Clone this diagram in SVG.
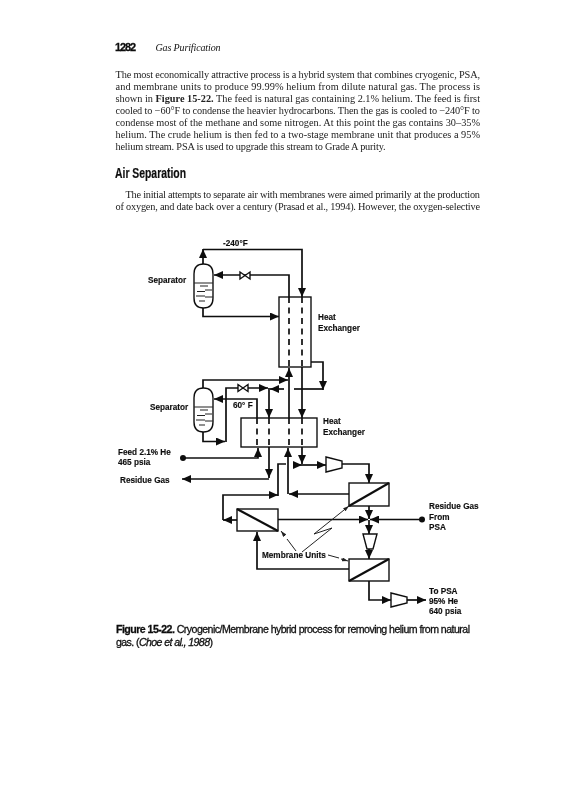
<svg xmlns="http://www.w3.org/2000/svg" width="565" height="800" viewBox="0 0 565 800">
<style>
text{fill:#111}
.b{font-family:"Liberation Serif",serif;font-size:10.3px;fill:#222}
.l{font-family:"Liberation Sans",sans-serif;font-size:8.2px;font-weight:bold;stroke:#111;stroke-width:.15}
.cap{font-family:"Liberation Sans",sans-serif;font-size:10.6px;stroke:#111;stroke-width:.3}
.c{fill:none;stroke:#111;stroke-width:1.7}
.a{marker-end:url(#ah)}
.d{stroke-dasharray:6 4.5}
.t{fill:none;stroke:#222;stroke-width:1}
.n{fill:#fff;stroke:#111;stroke-width:1.4}
.nf{fill:none;stroke:#111;stroke-width:1.4}
.m{stroke:#111;stroke-width:2.2;fill:none}
.s{stroke:#222;stroke-width:1.1;fill:none}
</style>
<defs>
<marker id="ah" markerUnits="userSpaceOnUse" markerWidth="9" markerHeight="8" refX="9" refY="4" orient="auto"><path d="M0 0L9 4L0 8Z" fill="#111"/></marker>
<marker id="th" markerUnits="userSpaceOnUse" markerWidth="6" markerHeight="4" refX="6" refY="2" orient="auto"><path d="M0 0L6 2L0 4Z" fill="#222"/></marker>
<filter id="soft" x="0" y="0" width="1" height="1"><feGaussianBlur stdDeviation="0.35"/></filter>
</defs>
<rect width="565" height="800" fill="#fff"/>
<g filter="url(#soft)">
<g id="page-text">
<text x="115" y="50.5" font-family="Liberation Sans,sans-serif" font-weight="bold" font-size="11" stroke="#111" stroke-width=".3" textLength="21">1282</text>
<text x="155.500" y="50.500" font-family="Liberation Serif,serif" font-style="italic" font-size="10" textLength="65">Gas Purification</text>
<text class="b" x="115.500" y="77.500" textLength="364.500">The most economically attractive process is a hybrid system that combines cryogenic, PSA,</text>
<text class="b" x="115.500" y="89.600" textLength="364.500">and membrane units to produce 99.99% helium from dilute natural gas. The process is</text>
<text class="b" x="115.500" y="101.700" textLength="364.500">shown in <tspan font-weight="bold">Figure 15-22.</tspan> The feed is natural gas containing 2.1% helium. The feed is first</text>
<text class="b" x="115.500" y="113.800" textLength="364.500">cooled to −60°F to condense the heavier hydrocarbons. Then the gas is cooled to −240°F to</text>
<text class="b" x="115.500" y="125.900" textLength="364.500">condense most of the methane and some nitrogen. At this point the gas contains 30–35%</text>
<text class="b" x="115.500" y="138" textLength="364.500">helium. The crude helium is then fed to a two-stage membrane unit that produces a 95%</text>
<text class="b" x="115.500" y="150.100" textLength="270">helium stream. PSA is used to upgrade this stream to Grade A purity.</text>
<text x="115" y="177.500" font-family="Liberation Sans,sans-serif" font-weight="bold" font-size="14.500" stroke="#111" stroke-width=".2" textLength="71" lengthAdjust="spacingAndGlyphs">Air Separation</text>
<text class="b" x="125.500" y="198" textLength="354.500">The initial attempts to separate air with membranes were aimed primarily at the production</text>
<text class="b" x="115.500" y="210.300" textLength="364.500">of oxygen, and date back over a century (Prasad et al., 1994). However, the oxygen-selective</text>
</g>
<g id="connectors">
<path class="c a" d="M203 264V249"/>
<path class="c a" d="M203 249.500H302V297"/>
<path class="c a" d="M289 297V275H214"/>
<path class="c a" d="M203 308V316.500H279"/>
<path class="c d" d="M289 297V367"/>
<path class="c d" d="M302 297V367"/>
<path class="c a" d="M289 418V368"/>
<path class="c a" d="M302 367V418"/>
<path class="c a" d="M311 362H323V390"/>
<path class="c" d="M323 389H294"/>
<path class="c a" d="M284 389H270"/>
<path class="c a" d="M226 442V388H268"/>
<path class="c a" d="M269 388V418"/>
<path class="c a" d="M203 432V441.500H225"/>
<path class="c a" d="M203 388V380H288"/>
<path class="c a" d="M257 418V399H214"/>
<path class="c d" d="M257 418V447"/>
<path class="c d" d="M269 418V447"/>
<path class="c d" d="M289 418V447"/>
<path class="c d" d="M302 418V447"/>
<path class="c a" d="M183 458H258V448"/>
<path class="c a" d="M269 447V478"/>
<path class="c a" d="M269 479H182"/>
<path class="c a" d="M288 494V448"/>
<path class="c a" d="M349 494H289"/>
<path class="c a" d="M302 447V464"/>
<path class="c" d="M278 496V464H286"/>
<path class="c a" d="M293 465H302"/>
<path class="c a" d="M302 465H326"/>
<path class="c a" d="M342 464H369V483"/>
<path class="c a" d="M223 520V495H278"/>
<path class="c a" d="M237 520H223"/>
<path class="c a" d="M369 506V519"/>
<path class="c a" d="M278 519.500H368"/>
<path class="c a" d="M422 519.500H370"/>
<path class="c a" d="M369 520V534"/>
<path class="c a" d="M369 549V559"/>
<path class="c a" d="M349 569H257V532"/>
<path class="c a" d="M369 581V600H391"/>
<path class="c a" d="M407 600H426"/>
<circle cx="183" cy="458" r="3" fill="#111"/>
<circle cx="422" cy="519.500" r="3" fill="#111"/>
<path class="t" d="M296 551L287 539M285 536L281 531" marker-end="url(#th)"/>
<path class="t" d="M302 552L332 528L314 534L349 506" marker-end="url(#th)"/>
<path class="t" d="M328 555L339 558M341 559L348 561" marker-end="url(#th)"/>
</g>
<g id="separator-1">
<path class="n" d="M194 274Q194 264 203.500 264Q213 264 213 274V298Q213 308 203.500 308Q194 308 194 298Z"/>
<path class="s" d="M194 283H213M200 286H208M197 291.500H205M205 290H212M196 296H205M205 297H213M199 301H205"/>
</g>
<g id="separator-2">
<path class="n" d="M194 398Q194 388 203.500 388Q213 388 213 398V422Q213 432 203.500 432Q194 432 194 422Z"/>
<path class="s" d="M194 407H213M200 410H208M197 415.500H205M205 414H212M196 420H205M205 421H213M199 425H205"/>
</g>
<g id="heat-exchanger-1"><rect class="nf" x="279" y="297" width="32" height="70"/></g>
<g id="heat-exchanger-2"><rect class="nf" x="241" y="418" width="76" height="29"/></g>
<g id="valve-1"><path class="n" d="M240 272V279L250 272V279Z"/></g>
<g id="valve-2"><path class="n" d="M238 384.500V391.500L248 384.500V391.500Z"/></g>
<g id="compressor-1"><path class="n" d="M326 457V472L342 468V461Z"/></g>
<g id="compressor-2"><path class="n" d="M363 534H377L373 549H367Z"/></g>
<g id="compressor-3"><path class="n" d="M391 593V607L407 603V597Z"/></g>
<g id="membrane-1"><rect class="n" x="349" y="483" width="40" height="23"/><path class="m" d="M349 506L389 483"/></g>
<g id="membrane-2"><rect class="n" x="237" y="509" width="41" height="22"/><path class="m" d="M237 509L278 531"/></g>
<g id="membrane-3"><rect class="n" x="349" y="559" width="40" height="22"/><path class="m" d="M349 581L389 559"/></g>
<g id="labels">
<text class="l" x="223" y="246">-240°F</text>
<text class="l" x="148" y="283">Separator</text>
<text class="l" x="318" y="320">Heat</text>
<text class="l" x="318" y="331">Exchanger</text>
<text class="l" x="150" y="410">Separator</text>
<text class="l" x="233" y="408">60° F</text>
<text class="l" x="323" y="424">Heat</text>
<text class="l" x="323" y="435">Exchanger</text>
<text class="l" x="118" y="455">Feed 2.1% He</text>
<text class="l" x="118" y="465">465 psia</text>
<text class="l" x="120" y="483">Residue Gas</text>
<text class="l" x="429" y="509">Residue Gas</text>
<text class="l" x="429" y="520">From</text>
<text class="l" x="429" y="530">PSA</text>
<text class="l" x="429" y="594">To PSA</text>
<text class="l" x="429" y="604">95% He</text>
<text class="l" x="429" y="614">640 psia</text>
<text class="l" x="262" y="558">Membrane Units</text>
</g>
<g id="caption">
<text class="cap" x="116" y="633" textLength="354"><tspan font-weight="bold">Figure 15-22.</tspan> Cryogenic/Membrane hybrid process for removing helium from natural</text>
<text class="cap" x="116" y="646" textLength="97">gas. (<tspan font-style="italic">Choe et al., 1988</tspan>)</text>
</g>
</g>
</svg>
